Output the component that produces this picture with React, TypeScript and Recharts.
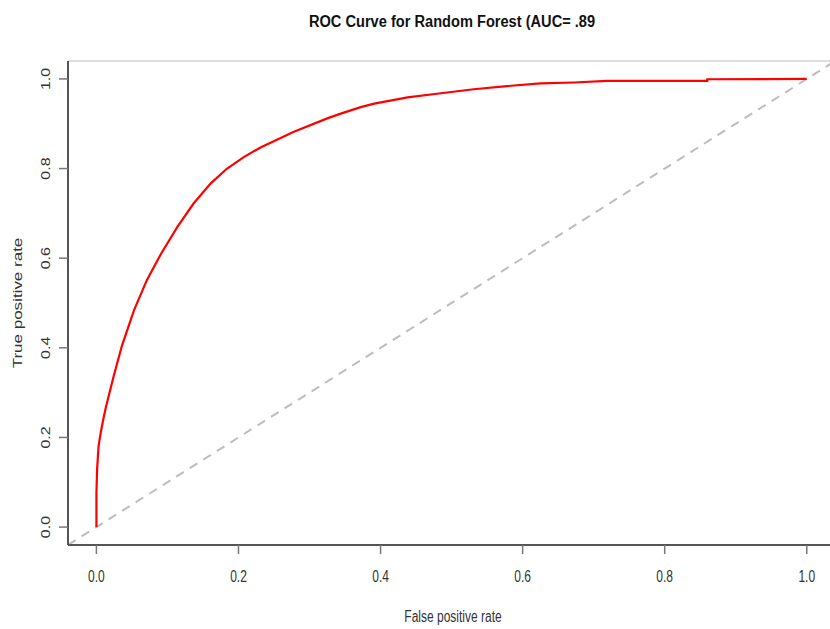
import React from 'react';
import { LineChart, Line, XAxis, YAxis } from 'recharts';

// ROC curve (false positive rate, true positive rate)
const fprValues = [0, 0, 0.001, 0.003, 0.006, 0.009, 0.013, 0.018, 0.024, 0.036, 0.053, 0.071, 0.091, 0.114, 0.137, 0.161, 0.184, 0.208, 0.231, 0.278, 0.325, 0.344, 0.372, 0.391, 0.438, 0.485, 0.531, 0.578, 0.625, 0.672, 0.719, 0.86, 0.86, 1.0];
const tprValues = [0, 0.075, 0.13, 0.18, 0.21, 0.235, 0.265, 0.297, 0.335, 0.405, 0.484, 0.551, 0.61, 0.67, 0.7225, 0.767, 0.8, 0.826, 0.847, 0.882, 0.912, 0.9225, 0.937, 0.945, 0.959, 0.968, 0.977, 0.984, 0.99, 0.992, 0.9955, 0.9955, 0.9993, 1.0];

// reference diagonal (abline y = x, spanning the plot region)
const diagFpr = [-0.04, 1.04];
const diagTpr = [-0.04, 1.04];

const xTicks = [0, 0.2, 0.4, 0.6, 0.8, 1.0];
const yTicks = [0, 0.2, 0.4, 0.6, 0.8, 1.0];

const titleText = 'ROC Curve for Random Forest (AUC= .89';
const xLabelText = 'False positive rate';
const yLabelText = 'True positive rate';

const rocData = fprValues.map((f, i) => ({ fpr: f, tpr: tprValues[i] }));
const diagData = diagFpr.map((f, i) => ({ fpr: f, tpr: diagTpr[i] }));

const FONT = '"Liberation Sans", Arial, sans-serif';
const TEXT_COLOR = '#333';

const XTick = (props: any) => {
  const { x, y, payload } = props;
  return (
    <text
      transform={`translate(${x},${y + 28}) scale(0.75,1)`}
      textAnchor="middle"
      fontFamily={FONT}
      fontSize={16}
      fill={TEXT_COLOR}
    >
      {Number(payload.value).toFixed(1)}
    </text>
  );
};

const YTick = (props: any) => {
  const { x, y, payload } = props;
  return (
    <text
      transform={`translate(${x - 9},${y}) scale(0.8,1) rotate(-90)`}
      textAnchor="middle"
      fontFamily={FONT}
      fontSize={16}
      fill={TEXT_COLOR}
    >
      {Number(payload.value).toFixed(1)}
    </text>
  );
};

const renderTitle = () => (
  <text
    transform="translate(452,27) scale(0.86,1)"
    textAnchor="middle"
    fontFamily={FONT}
    fontWeight="bold"
    fontSize={17}
    fill="#111"
  >
    {titleText}
  </text>
);

const renderXLabel = () => (
  <text
    transform="translate(453,622) scale(0.75,1)"
    textAnchor="middle"
    fontFamily={FONT}
    fontSize={16}
    fill={TEXT_COLOR}
  >
    {xLabelText}
  </text>
);

const renderYLabel = () => (
  <text
    transform="translate(22,303) scale(0.75,1) rotate(-90)"
    textAnchor="middle"
    fontFamily={FONT}
    fontSize={17}
    fill={TEXT_COLOR}
  >
    {yLabelText}
  </text>
);

export default function App() {
  return (
    <div style={{ position: 'absolute', left: 0, top: 0, width: 830, height: 629, background: '#fff' }}>
      <LineChart width={830} height={629} margin={{ top: 0, right: 0, bottom: 0, left: 0 }}>
        <XAxis
          xAxisId="top"
          orientation="top"
          type="number"
          domain={[-0.04, 1.0327]}
          allowDataOverflow
          tick={false}
          tickLine={false}
          height={61}
          axisLine={{ stroke: '#dedede', strokeWidth: 2 }}
          label={{ content: renderTitle }}
        />
        <XAxis
          dataKey="fpr"
          type="number"
          domain={[-0.04, 1.0327]}
          allowDataOverflow
          ticks={xTicks}
          interval={0}
          height={84}
          tickSize={9}
          tickMargin={0}
          tick={<XTick />}
          tickLine={{ stroke: '#777', strokeWidth: 1.5 }}
          axisLine={{ stroke: '#555', strokeWidth: 2 }}
          label={{ content: renderXLabel }}
        />
        <YAxis
          dataKey="tpr"
          type="number"
          domain={[-0.04, 1.04]}
          allowDataOverflow
          ticks={yTicks}
          interval={0}
          width={68}
          tickSize={9}
          tickMargin={0}
          tick={<YTick />}
          tickLine={{ stroke: '#777', strokeWidth: 1.5 }}
          axisLine={{ stroke: '#555', strokeWidth: 2 }}
          label={{ content: renderYLabel }}
        />
        <Line
          data={diagData}
          dataKey="tpr"
          type="linear"
          stroke="#bdbdbd"
          strokeWidth={2}
          strokeDasharray="9 7"
          dot={false}
          activeDot={false}
          isAnimationActive={false}
        />
        <Line
          data={rocData}
          dataKey="tpr"
          type="linear"
          stroke="#ff0000"
          strokeWidth={2.2}
          dot={false}
          activeDot={false}
          isAnimationActive={false}
        />
      </LineChart>
    </div>
  );
}
